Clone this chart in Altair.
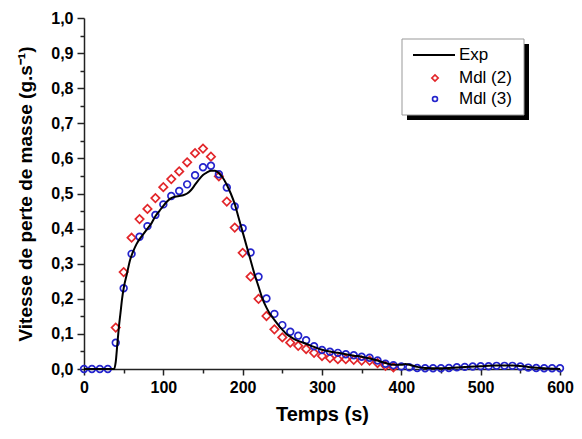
import altair as alt
import pandas as pd

series_names = ["Exp", "Mdl (2)", "Mdl (3)"]

exp_t = [0, 38, 40, 42, 44, 46, 48, 50, 54, 58, 62, 66, 70, 75, 80, 85, 90, 95, 100, 105,
         110, 115, 120, 125, 130, 135, 140, 145, 150, 155, 160, 165, 170, 175, 180, 185,
         190, 195, 200, 205, 210, 215, 220, 225, 230, 235, 240, 245, 250, 255, 260, 265,
         270, 280, 290, 300, 310, 320, 330, 340, 350, 360, 370, 380, 390, 400, 405, 410,
         420, 430, 450, 470, 500, 520, 540, 560, 580, 600]
exp_v = [0.0, 0.0, 0.02, 0.07, 0.12, 0.16, 0.20, 0.23, 0.27, 0.31, 0.335, 0.355, 0.37, 0.385,
         0.40, 0.415, 0.435, 0.45, 0.465, 0.478, 0.487, 0.491, 0.493, 0.495, 0.50, 0.51,
         0.525, 0.54, 0.553, 0.56, 0.565, 0.565, 0.558, 0.545, 0.525, 0.50, 0.47, 0.43,
         0.39, 0.35, 0.31, 0.27, 0.235, 0.20, 0.175, 0.155, 0.14, 0.125, 0.112, 0.10, 0.092,
         0.085, 0.08, 0.072, 0.063, 0.055, 0.05, 0.046, 0.042, 0.038, 0.035, 0.03, 0.024,
         0.017, 0.012, 0.012, 0.014, 0.012, 0.006, 0.003, 0.002, 0.004, 0.008, 0.01, 0.01,
         0.006, 0.002, 0.0]

mdl2_t = [40, 50, 60, 70, 80, 90, 100, 110, 120, 130, 140, 150, 160, 170, 180, 190, 200,
          210, 220, 230, 240, 250, 260, 270, 280, 290, 300, 310, 320, 330, 340, 350, 360,
          370, 380, 390]
mdl2_v = [0.118, 0.276, 0.374, 0.427, 0.456, 0.487, 0.518, 0.541, 0.563, 0.589, 0.615,
          0.628, 0.605, 0.549, 0.477, 0.403, 0.331, 0.263, 0.2, 0.151, 0.113, 0.09, 0.075,
          0.066, 0.057, 0.046, 0.037, 0.031, 0.028, 0.028, 0.026, 0.024, 0.024, 0.017,
          0.009, 0.005]

mdl3_t = [0, 10, 20, 30, 40, 50, 60, 70, 80, 90, 100, 110, 120, 130, 140, 150, 160, 170,
          180, 190, 200, 210, 220, 230, 240, 250, 260, 270, 280, 290, 300, 310, 320, 330,
          340, 350, 360, 370, 380, 390, 400, 410, 420, 430, 440, 450, 460, 470, 480, 490,
          500, 510, 520, 530, 540, 550, 560, 570, 580, 590, 600]
mdl3_v = [0.0, 0.0, 0.0, 0.0, 0.075, 0.23, 0.328, 0.377, 0.407, 0.439, 0.469, 0.493, 0.507,
          0.526, 0.552, 0.575, 0.579, 0.555, 0.517, 0.463, 0.401, 0.332, 0.263, 0.201,
          0.157, 0.125, 0.106, 0.095, 0.082, 0.065, 0.054, 0.049, 0.046, 0.042, 0.039,
          0.035, 0.032, 0.024, 0.015, 0.011, 0.007, 0.005, 0.003, 0.002, 0.002, 0.002,
          0.003, 0.005, 0.006, 0.007, 0.008, 0.008, 0.009, 0.009, 0.009, 0.007, 0.004,
          0.003, 0.002, 0.002, 0.002]

x_major = [0, 100, 200, 300, 400, 500, 600]
x_minor = [50, 150, 250, 350, 450, 550]
y_major = [0.0, 0.1, 0.2, 0.3, 0.4, 0.5, 0.6, 0.7, 0.8, 0.9, 1.0]
y_minor = [0.05, 0.15, 0.25, 0.35, 0.45, 0.55, 0.65, 0.75, 0.85, 0.95]

RED = "#e2262a"
BLUE = "#2424cc"
FONT = "Liberation Sans"

exp_df = pd.DataFrame({"t": exp_t, "v": exp_v})
m2_df = pd.DataFrame({"t": mdl2_t, "v": mdl2_v})
m3_df = pd.DataFrame({"t": mdl3_t, "v": mdl3_v})

xs = alt.Scale(domain=[0, 600], nice=False, zero=False)
ys = alt.Scale(domain=[0, 1.0], nice=False)

common_axis = dict(grid=False, domainColor="#222", domainWidth=1.5, tickColor="#222",
                   tickWidth=1.5, labelFont=FONT, labelFontWeight="bold", labelFontSize=16,
                   labelColor="black", titleFont=FONT, titleFontWeight="bold",
                   titleColor="black", labelFlush=False)

x_main = alt.Axis(values=x_major, format="d", tickSize=6, labelPadding=4,
                  title="Temps (s)", titlePadding=9, titleFontSize=20, orient="bottom",
                  **common_axis)
y_main = alt.Axis(values=y_major, tickSize=7, labelPadding=4,
                  labelExpr="replace(format(datum.value, '.1f'), '.', ',')",
                  title="Vitesse de perte de masse (g.s\u207b\u00b9)", titlePadding=15,
                  titleFontSize=19, orient="left", **common_axis)
x_min = alt.Axis(values=x_minor, tickSize=4, labels=False, domain=False, title=None,
                 grid=False, tickColor="#222", tickWidth=1.5, orient="bottom")
y_min = alt.Axis(values=y_minor, tickSize=4, labels=False, domain=False, title=None,
                 grid=False, tickColor="#222", tickWidth=1.5, orient="left")

red_pts = alt.Chart(m2_df).mark_point(shape="diamond", filled=False, color=RED, size=70,
                                      strokeWidth=1.7, opacity=1).encode(
    x=alt.X("t:Q", scale=xs, axis=x_min),
    y=alt.Y("v:Q", scale=ys, axis=y_min),
)
blue_pts = alt.Chart(m3_df).mark_point(shape="circle", filled=False, color=BLUE, size=45,
                                       strokeWidth=1.7, opacity=1).encode(
    x=alt.X("t:Q", scale=xs, axis=None),
    y=alt.Y("v:Q", scale=ys, axis=None),
)
exp_line = alt.Chart(exp_df).mark_line(color="black", strokeWidth=2, interpolate="monotone").encode(
    x=alt.X("t:Q", scale=xs, axis=x_main),
    y=alt.Y("v:Q", scale=ys, axis=y_main),
)

one = pd.DataFrame({"k": [0]})
leg_shadow = alt.Chart(one).mark_rect(color="black").encode(
    x=alt.value(323), x2=alt.value(445), y=alt.value(26), y2=alt.value(102))
leg_box = alt.Chart(one).mark_rect(fill="white", stroke="#999", strokeWidth=1).encode(
    x=alt.value(318), x2=alt.value(440), y=alt.value(21), y2=alt.value(97))
leg_line = alt.Chart(one).mark_rule(color="black", strokeWidth=2).encode(
    x=alt.value(329), x2=alt.value(371), y=alt.value(37))
leg_d = alt.Chart(one).mark_point(shape="diamond", filled=False, color=RED, size=40,
                                  strokeWidth=1.7, opacity=1).encode(
    x=alt.value(351), y=alt.value(60))
leg_c = alt.Chart(one).mark_point(shape="circle", filled=False, color=BLUE, size=24,
                                  strokeWidth=1.7, opacity=1).encode(
    x=alt.value(351), y=alt.value(81))
leg_texts = [
    alt.Chart(one).mark_text(align="left", baseline="middle", font=FONT, fontSize=17,
                             color="black").encode(
        x=alt.value(375), y=alt.value(yy), text=alt.value(name))
    for name, yy in zip(series_names, [37, 60, 81])
]

chart = alt.layer(
    red_pts, blue_pts, exp_line,
    leg_shadow, leg_box, leg_line, leg_d, leg_c, *leg_texts
).resolve_axis(x="independent", y="independent").properties(
    width=476, height=351,
    autosize=alt.AutoSizeParams(type="none"),
    padding={"left": 76, "top": 10, "right": 14, "bottom": 62},
    background="white",
).configure_view(stroke=None)

chart.save("out.html", embed_options={"renderer": "svg", "actions": False})
